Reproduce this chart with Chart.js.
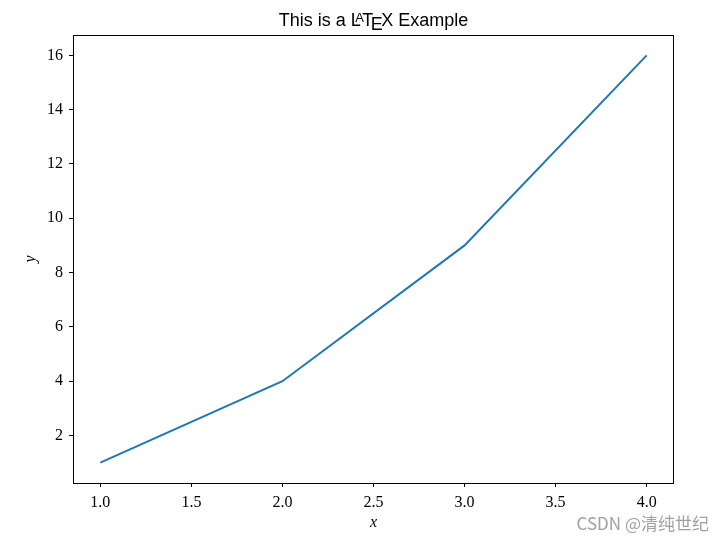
<!DOCTYPE html>
<html>
<head>
<meta charset="utf-8">
<script src="https://cdn.jsdelivr.net/npm/chart.js@4"></script>
<style>
  body { margin: 0; background: #fff; }
  canvas { display: block; }
</style>
</head>
<body>
<canvas id="myChart" width="724" height="543"></canvas>
<script>
// data
const xValues = [1, 2, 3, 4];
const yValues = [1, 4, 9, 16];
const xTicks = [1.0, 1.5, 2.0, 2.5, 3.0, 3.5, 4.0];
const yTicks = [2, 4, 6, 8, 10, 12, 14, 16];

const serif = '"Liberation Serif", "DejaVu Serif", serif';
const sans = '"Liberation Sans", "DejaVu Sans", sans-serif';

// frame, axis labels, title with the LaTeX logo, watermark
const decorations = {
    id: 'decorations',
    afterDraw(chart) {
        const c = chart.ctx;
        const a = chart.chartArea;
        c.save();
        c.strokeStyle = '#000';
        c.lineWidth = 1;
        c.strokeRect(a.left + 0.5, a.top + 0.5, a.right - a.left - 1, a.bottom - a.top);

        c.fillStyle = '#000';
        c.font = 'italic 16px ' + serif;
        c.textAlign = 'center';
        c.textBaseline = 'middle';
        c.fillText('x', (a.left + a.right) / 2, 523);
        c.save();
        c.translate(31, (a.top + a.bottom) / 2);
        c.rotate(-Math.PI / 2);
        c.fillText('y', 0, 0);
        c.restore();

        // title: "This is a LaTeX Example"
        const size = 18;
        const base = 26;
        const big = size + 'px ' + sans;
        const small = Math.round(size * 0.72) + 'px ' + sans;
        const parts = [
            { t: 'This is a ', f: big, dy: 0, k: 0 },
            { t: 'L', f: big, dy: 0, k: -0.3 },
            { t: 'A', f: small, dy: -0.2, k: -0.1 },
            { t: 'T', f: big, dy: 0, k: -0.14 },
            { t: 'E', f: big, dy: 0.22, k: -0.08 },
            { t: 'X Example', f: big, dy: 0, k: 0 }
        ];
        let total = 0;
        parts.forEach(p => {
            c.font = p.f;
            p.w = c.measureText(p.t).width;
            total += p.w + p.k * size;
        });
        let x = (a.left + a.right) / 2 - total / 2;
        c.textAlign = 'left';
        c.textBaseline = 'alphabetic';
        parts.forEach(p => {
            c.font = p.f;
            c.fillText(p.t, x, base + p.dy * size);
            x += p.w + p.k * size;
        });

        // watermark
        c.fillStyle = 'rgba(120,120,120,0.7)';
        c.font = '17px "Noto Sans CJK SC", ' + sans;
        c.textAlign = 'right';
        c.textBaseline = 'middle';
        c.fillText('CSDN @清纯世纪', 709, 524);
        c.restore();
    }
};

const ctx = document.getElementById('myChart').getContext('2d');
const myChart = new Chart(ctx, {
    type: 'scatter',
    data: {
        datasets: [{
            data: xValues.map((x, i) => ({ x: x, y: yValues[i] })),
            showLine: true,
            borderColor: '#1f77b4',
            borderWidth: 2,
            pointRadius: 0,
            fill: false
        }]
    },
    options: {
        responsive: false,
        animation: false,
        layout: { padding: { top: 35, right: 50, left: 0, bottom: 0 } },
        plugins: {
            legend: { display: false },
            tooltip: { enabled: false }
        },
        scales: {
            x: {
                type: 'linear',
                min: 0.85,
                max: 4.15,
                afterFit: s => { s.height = 60; },
                afterBuildTicks: s => { s.ticks = xTicks.map(v => ({ value: v })); },
                grid: { drawOnChartArea: false, drawTicks: true, tickLength: 4, color: '#000' },
                border: { display: false },
                ticks: {
                    color: '#000',
                    font: { family: serif, size: 16 },
                    padding: 6,
                    maxRotation: 0,
                    callback: v => v.toFixed(1)
                }
            },
            y: {
                type: 'linear',
                min: 0.25,
                max: 16.75,
                afterFit: s => { s.width = 73; },
                afterBuildTicks: s => { s.ticks = yTicks.map(v => ({ value: v })); },
                grid: { drawOnChartArea: false, drawTicks: true, tickLength: 4, color: '#000' },
                border: { display: false },
                ticks: {
                    color: '#000',
                    font: { family: serif, size: 16 },
                    padding: 6,
                    callback: v => String(v)
                }
            }
        }
    },
    plugins: [decorations]
});
</script>
</body>
</html>
